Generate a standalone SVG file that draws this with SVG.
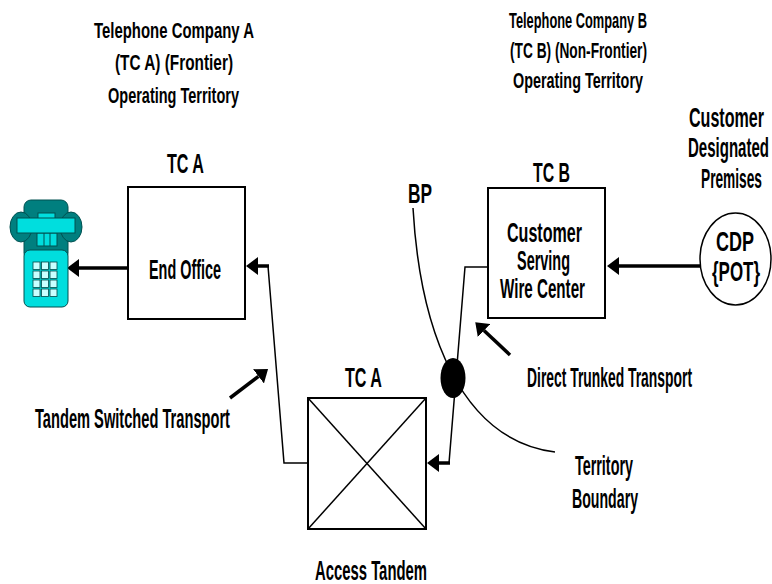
<svg xmlns="http://www.w3.org/2000/svg" width="772" height="584" viewBox="0 0 772 584">
<style>
.t{font-family:"Liberation Sans",Arial,sans-serif;font-weight:bold;fill:#000}
.big{font-size:28px}
.sm{font-size:22px}
.box{fill:#fff;stroke:#000;stroke-width:2}
.thin{fill:none;stroke:#000;stroke-width:1.5}
.thick{fill:none;stroke:#000;stroke-width:3.5}
.dk{fill:#007f7f;stroke:#005050;stroke-width:1}
.cy{fill:#00dede;stroke:#005050;stroke-width:1}
.key{fill:#c8ffff;stroke:#004848;stroke-width:0.8}
</style>
<defs>
<marker id="ah" markerUnits="userSpaceOnUse" markerWidth="13" markerHeight="18" refX="0" refY="9" orient="auto">
<path d="M0,0 L12,9 L0,18 z" fill="#000"/>
</marker>
</defs>
<rect width="772" height="584" fill="#fff"/>

<g id="title-a">
<text class="t sm" x="94" y="38" textLength="160" lengthAdjust="spacingAndGlyphs">Telephone Company A</text>
<text class="t sm" x="115" y="70" textLength="118" lengthAdjust="spacingAndGlyphs">(TC A) (Frontier)</text>
<text class="t sm" x="108" y="103" textLength="131" lengthAdjust="spacingAndGlyphs">Operating Territory</text>
</g>
<g id="title-b">
<text class="t sm" x="509" y="28" textLength="138" lengthAdjust="spacingAndGlyphs">Telephone Company B</text>
<text class="t sm" x="510" y="58" textLength="137" lengthAdjust="spacingAndGlyphs">(TC B) (Non-Frontier)</text>
<text class="t sm" x="513" y="88" textLength="130" lengthAdjust="spacingAndGlyphs">Operating Territory</text>
</g>

<g id="connectors">
<line class="thick" x1="128" y1="268" x2="79" y2="268" marker-end="url(#ah)"/>
<polyline class="thin" points="308,463 284,463 268,266"/>
<line class="thick" x1="269" y1="266" x2="258" y2="266" marker-end="url(#ah)"/>
<polyline class="thin" points="488,267 465,267 449,463"/>
<line class="thick" x1="450" y1="463" x2="439" y2="463" marker-end="url(#ah)"/>
<line class="thick" x1="700" y1="266" x2="619" y2="266" marker-end="url(#ah)"/>
<line class="thick" x1="510" y1="355" x2="484" y2="330.5" marker-end="url(#ah)"/>
<line class="thick" x1="230" y1="398" x2="258.5" y2="376.3" marker-end="url(#ah)"/>
</g>

<g id="territory-boundary">
<path class="thin" d="M413,208 C420,330 460,440 555,452"/>
<text class="t big" x="408" y="203" textLength="24" lengthAdjust="spacingAndGlyphs">BP</text>
<text class="t big" x="575" y="475" textLength="58" lengthAdjust="spacingAndGlyphs">Territory</text>
<text class="t big" x="572" y="508" textLength="66" lengthAdjust="spacingAndGlyphs">Boundary</text>
</g>

<g id="bp-point">
<ellipse cx="453" cy="378" rx="12.5" ry="20" fill="#000"/>
</g>

<g id="phone">
<rect class="dk" x="24" y="200" width="44" height="60" rx="7"/>
<ellipse class="dk" cx="21" cy="227" rx="11" ry="15"/>
<ellipse class="dk" cx="71" cy="227" rx="11" ry="15"/>
<rect class="cy" x="38" y="213" width="17" height="6"/>
<rect class="cy" x="37" y="233" width="20" height="13"/>
<line x1="44" y1="233" x2="44" y2="246" stroke="#005050" stroke-width="1"/>
<line x1="50" y1="233" x2="50" y2="246" stroke="#005050" stroke-width="1"/>
<rect class="cy" x="17" y="218" width="58" height="15"/>
<rect class="cy" x="24" y="250" width="44" height="57" rx="6"/>
<g>
<rect class="key" x="33" y="262" width="7" height="7.5"/><rect class="key" x="41.5" y="262" width="7" height="7.5"/><rect class="key" x="50" y="262" width="7" height="7.5"/>
<rect class="key" x="33" y="271" width="7" height="7.5"/><rect class="key" x="41.5" y="271" width="7" height="7.5"/><rect class="key" x="50" y="271" width="7" height="7.5"/>
<rect class="key" x="33" y="280" width="7" height="7.5"/><rect class="key" x="41.5" y="280" width="7" height="7.5"/><rect class="key" x="50" y="280" width="7" height="7.5"/>
<rect class="key" x="33" y="289" width="7" height="7.5"/><rect class="key" x="41.5" y="289" width="7" height="7.5"/><rect class="key" x="50" y="289" width="7" height="7.5"/>
</g>
</g>

<g id="end-office">
<text class="t big" x="167" y="173" textLength="37" lengthAdjust="spacingAndGlyphs">TC A</text>
<rect class="box" x="128" y="187" width="117" height="132"/>
<text class="t big" x="149" y="279" textLength="72" lengthAdjust="spacingAndGlyphs">End Office</text>
</g>

<g id="wire-center">
<text class="t big" x="533" y="182" textLength="37" lengthAdjust="spacingAndGlyphs">TC B</text>
<rect class="box" x="488" y="188" width="117" height="130"/>
<text class="t big" x="507" y="242" textLength="75" lengthAdjust="spacingAndGlyphs">Customer</text>
<text class="t big" x="517" y="270" textLength="53" lengthAdjust="spacingAndGlyphs">Serving</text>
<text class="t big" x="500" y="298" textLength="85" lengthAdjust="spacingAndGlyphs">Wire Center</text>
</g>

<g id="cdp">
<text class="t big" x="689" y="127" textLength="75" lengthAdjust="spacingAndGlyphs">Customer</text>
<text class="t big" x="688" y="157" textLength="81" lengthAdjust="spacingAndGlyphs">Designated</text>
<text class="t big" x="701" y="188" textLength="61" lengthAdjust="spacingAndGlyphs">Premises</text>
<ellipse cx="735.5" cy="259" rx="35.5" ry="46" fill="#fff" stroke="#000" stroke-width="1.5"/>
<text class="t big" x="716" y="251" textLength="38" lengthAdjust="spacingAndGlyphs">CDP</text>
<text class="t big" x="712" y="281" textLength="48" lengthAdjust="spacingAndGlyphs">{POT}</text>
</g>

<g id="access-tandem">
<text class="t big" x="345" y="387" textLength="37" lengthAdjust="spacingAndGlyphs">TC A</text>
<rect class="box" x="308" y="398" width="118" height="131"/>
<line x1="308" y1="398" x2="426" y2="529" stroke="#000" stroke-width="1.5"/>
<line x1="426" y1="398" x2="308" y2="529" stroke="#000" stroke-width="1.5"/>
<text class="t big" x="315" y="580" textLength="112" lengthAdjust="spacingAndGlyphs">Access Tandem</text>
</g>

<g id="labels">
<text class="t big" x="527" y="387" textLength="165" lengthAdjust="spacingAndGlyphs">Direct Trunked Transport</text>
<text class="t big" x="35" y="428" textLength="195" lengthAdjust="spacingAndGlyphs">Tandem Switched Transport</text>
</g>
</svg>
